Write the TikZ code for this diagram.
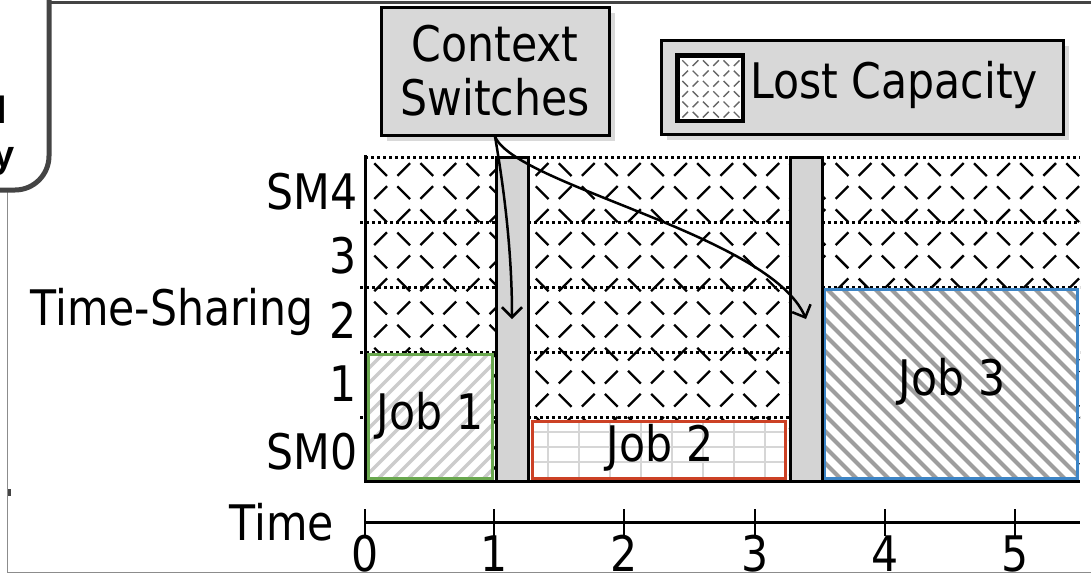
\documentclass[tikz,border=0pt]{standalone}
\usepackage{fontspec}
\setmainfont{DejaVu Sans}[FakeStretch=0.87]
\newfontfamily\cutfont{Liberation Sans}
\usetikzlibrary{arrows.meta,shadows}
\definecolor{jobgreen}{RGB}{106,168,79}
\definecolor{jobred}{RGB}{204,65,37}
\definecolor{jobblue}{RGB}{61,133,198}
\definecolor{boxgray}{RGB}{216,216,216}
\definecolor{bargray}{RGB}{212,212,212}
\definecolor{framegray}{RGB}{68,68,68}
\tikzset{
  lostdash/.style={line width=2.3pt, dash pattern=on 18pt off 14.63pt, dash phase=25.3pt},
  smalldash/.style={line width=1.4pt, draw=black!60, dash pattern=on 8pt off 6.57pt, dash phase=11.28pt},
  dotrow/.style={line width=3pt, dash pattern=on 3pt off 3pt},
  jobbox/.style={line width=3pt, inner sep=0pt},
  cswitch/.style={draw=black, fill=bargray, line width=3pt, inner sep=0pt, minimum width=32pt, minimum height=324pt},
  callout/.style={draw=black, fill=boxgray, line width=3pt, inner sep=0pt, drop shadow={opacity=0.3, shadow xshift=6pt, shadow yshift=-6pt}},
  lbl/.style={inner sep=0pt, font=\fontsize{49}{54}\selectfont},
  ptr/.style={line width=2.5pt, -{Straight Barb[length=10pt,width=20pt,line width=2.5pt]}},
}
\begin{document}
\begin{tikzpicture}[x=1pt,y=-1pt]
\useasboundingbox (0,0) rectangle (1091,574);
% outer frame pieces
\draw[framegray, line width=3pt] (50,2) -- (1091,2);
\draw[black!45, line width=1pt] (7,190) -- (7,572) -- (1091,572);
\fill[framegray] (8,489) rectangle (11,496);
\draw[framegray, line width=5pt, rounded corners=34pt, fill=white] (-120,-60) rectangle (49,190);
\node[inner sep=0pt, anchor=base east, font=\cutfont\bfseries\fontsize{38}{44}\selectfont] (cutA) at (7,123) {l};
\node[inner sep=0pt, anchor=base east, font=\cutfont\bfseries\fontsize{38}{44}\selectfont] (cutB) at (15,167) {y};

% lost capacity hatch
\begin{scope}
\clip (365,157) rectangle (1080,480);
\foreach \k in {-8,...,16} \draw[lostdash] ({46.14*\k-0.1},-211.1) -- ++(1400,1400);
\foreach \k in {-1,...,24} \draw[lostdash] ({46.14*\k-323.1},850.1) -- ++(1400,-1400);
\end{scope}
% row separators
\draw[dotrow] (365,157) -- (1080,157);
\foreach \yy in {222,287,352,417} \draw[dotrow] (360,\yy) -- (1080,\yy);

% Job 1
\fill[white] (368,354) rectangle (492,478);
\begin{scope}
\clip (368,354) rectangle (492,478);
\foreach \k in {0,...,17} \draw[black!20, line width=3.5pt] ({722+15*\k-490},490) -- ++(150,-150);
\end{scope}
\node[jobbox, draw=jobgreen, minimum width=124pt, minimum height=124pt] (job1) at (430,416) {};
\node[lbl] (job1t) at (job1.center) {Job 1};

% Job 2
\fill[white] (532,421) rectangle (785,478);
\begin{scope}
\clip (532,421) rectangle (785,478);
\foreach \k in {0,...,7} \draw[black!16, line width=2pt] ({548+31*\k},421) -- ++(0,57);
\foreach \yy in {432,447,462} \draw[black!16, line width=2pt] (532,\yy) -- (785,\yy);
\end{scope}
\node[jobbox, draw=jobred, minimum width=253pt, minimum height=57pt] (job2) at (658.5,449.5) {};
\node[lbl] (job2t) at (660,448) {Job 2};

% Job 3
\fill[white] (824,289) rectangle (1077,478);
\begin{scope}
\clip (824,289) rectangle (1077,478);
\foreach \k in {0,...,28} \draw[black!38, line width=4pt] ({346+16*\k+280},280) -- ++(210,210);
\end{scope}
\node[jobbox, draw=jobblue, minimum width=253pt, minimum height=189pt] (job3) at (950.5,383.5) {};
\node[lbl] (job3t) at (952,382) {Job 3};

% axes of the chart
\draw[line width=3pt] (365,155) -- (365,481) -- (1080,481);
% context switch bars
\node[cswitch] (bar1) at (512,319) {};
\node[cswitch] (bar2) at (806,319) {};

% Y labels
\node[lbl, anchor=east] (sm4) at (358,192) {SM4};
\node[lbl, anchor=east] (sm3) at (357,256) {3};
\node[lbl, anchor=east] (sm2) at (357,320) {2};
\node[lbl, anchor=east] (sm1) at (357,384) {1};
\node[lbl, anchor=east] (sm0) at (358,452) {SM0};
\node[lbl, anchor=base east] (ts) at (314,325) {Time-Sharing};

% time axis
\draw[line width=3pt] (365,522) -- (1080,522);
\foreach \i/\xx in {0/365,1/494,2/624,3/755,4/885,5/1015} {
  \draw[line width=2pt] (\xx,509) -- (\xx,536);
  \node[lbl, anchor=base] (tick\i) at (\xx,571) {\i};
}
\node[lbl, anchor=base east] (timelbl) at (334,540) {Time};

% callouts
\node[callout, minimum width=228pt, minimum height=128pt, align=center, font=\fontsize{49}{54}\selectfont] (cs) at (495,71) {Context\\Switches};
\node[callout, minimum width=402pt, minimum height=94pt] (lc) at (862,87) {};
\node[draw=black, fill=white, line width=3pt, minimum size=64pt, inner sep=0pt] (sw) at (710,88) {};
\begin{scope}
\clip (678,56) rectangle (742,120);
\foreach \k in {-4,...,8} \draw[smalldash] ({680+20.6*\k-82.4},-24.4) -- ++(250,250);
\foreach \k in {-2,...,10} \draw[smalldash] ({680+20.6*\k-82.4},140.4) -- ++(250,-250);
\end{scope}
\draw[line width=3pt] (sw.north west) rectangle (sw.south east);
\node[lbl, anchor=west] (lct) at (750,85) {Lost Capacity};

% arrows
\draw[ptr] (cs.south) .. controls (506,200) and (512,260) .. (bar1.center);
\draw[ptr] (cs.south) .. controls (515,185) and (770,235) .. (bar2.center);
\end{tikzpicture}
\end{document}
